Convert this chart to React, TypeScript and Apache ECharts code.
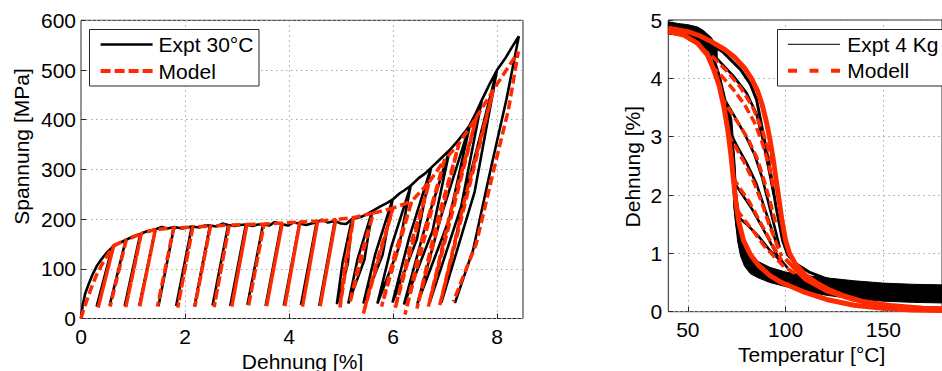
import React, { useEffect, useRef } from "react";
import * as echarts from "echarts";

const FONT = '"Liberation Sans", Arial, Helvetica, sans-serif';
const RED = "#ff2a00";
const FRAME = "#262626";

// ---------- Left chart: stress-strain (Dehnung [%] vs Spannung [MPa]) ----------
const strainTicks = [0, 2, 4, 6, 8];
const stressTicks = [0, 100, 200, 300, 400, 500, 600];

const exptFirstLoading: number[][] = [[0, 0], [0.03, 25], [0.08, 50], [0.15, 70], [0.22, 88], [0.3, 105], [0.4, 120], [0.5, 133]];
const exptPeakStrain = [0.6, 0.86, 1.14, 1.43, 1.79, 2.13, 2.48, 2.83, 3.17, 3.5, 3.85, 4.2, 4.53, 4.88, 5.21, 5.6, 5.99, 6.34, 6.73, 7.09, 7.48, 7.71, 8.0, 8.42];
const exptPeakStress = [143, 158, 170, 179, 184, 185, 187, 188, 189, 189, 190, 191, 193, 196, 200, 216, 239, 267, 303, 339, 390, 440, 500, 568];
const exptValleyStrain = [0.3, 0.55, 0.84, 1.12, 1.49, 1.83, 2.18, 2.53, 2.87, 3.2, 3.55, 3.9, 4.23, 4.58, 4.92, 5.14, 5.43, 5.7, 5.99, 6.21, 6.47, 6.7, 6.93, 7.19];
const exptValleyStress = [24, 26, 25, 26, 25, 25, 24, 26, 25, 27, 25, 26, 27, 25, 29, 30, 30, 30, 32, 28, 30, 30, 32, 31];
// mid points of the unloading / reloading branches (hardening loops only, null = straight)
const exptUnloadMid: (number[] | null)[] = [null, null, null, null, null, null, null, null, null, null, null, null, null, null,
  [5.03, 112], [5.32, 120], [5.66, 130], [5.97, 145], [6.31, 162], [6.6, 178], [6.92, 204], [7.15, 230], [7.42, 262], null];
const exptReloadMid: (number[] | null)[] = [null, null, null, null, null, null, null, null, null, null, null, null, null, null,
  [5.13, 110], [5.45, 118], [5.8, 128], [6.11, 142], [6.46, 160], [6.76, 176], [7.08, 200], [7.31, 225], [7.57, 255], null];
const exptEnvelope: number[][] = [
  [0.72, 151], [1.0, 165], [1.28, 176], [1.55, 184], [1.66, 181], [1.95, 181], [2.05, 183], [2.27, 183], [2.38, 187],
  [2.6, 185], [2.72, 191], [2.95, 186], [3.06, 188], [3.3, 186], [3.4, 189], [3.62, 187], [3.72, 194],
  [3.98, 187], [4.08, 193], [4.33, 188], [4.43, 191], [4.63, 199], [4.75, 193], [5.0, 191], [5.1, 190],
  [5.4, 205], [5.5, 210], [5.75, 225], [5.88, 232], [6.13, 252], [6.22, 258], [6.5, 283],
  [6.62, 292], [6.9, 320], [7.0, 330], [7.25, 358], [7.38, 375], [7.6, 415], [7.85, 470], [8.15, 522], [8.3, 548],
];
const exptFinalUnload: number[][] = [[8.18, 440], [7.89, 306], [7.54, 138]];

const modelFirstLoading: number[][] = [[0, 0], [0.04, 14], [0.1, 33], [0.2, 62], [0.3, 88], [0.4, 108], [0.5, 126]];
const modelPeakStrain = [0.63, 0.87, 1.16, 1.43, 1.78, 2.15, 2.49, 2.85, 3.19, 3.52, 3.87, 4.21, 4.55, 4.9, 5.24, 5.62, 6.0, 6.36, 6.7, 6.99, 7.27, 7.61, 7.93, 8.41];
const modelPeakStress = [147, 158, 171, 179, 182, 184, 186, 188, 189, 190, 192, 194, 196, 199, 203, 212, 222, 236, 275, 319, 352, 406, 460, 537];
const modelValleyStrain = [0.33, 0.56, 0.86, 1.13, 1.47, 1.86, 2.19, 2.56, 2.9, 3.22, 3.57, 3.92, 4.26, 4.6, 4.98, 5.17, 5.43, 5.78, 6.04, 6.23, 6.46, 6.68, 6.9, 7.16];
const modelValleyStress = [22, 24, 22, 24, 24, 22, 24, 23, 24, 24, 25, 25, 24, 25, 22, 31, 10, 24, 20, 8, 20, 24, 27, 34];
const modelUnloadMid: (number[] | null)[] = [null, null, null, null, null, null, null, null, null, null, null, null, null, null,
  [5.08, 112], [5.36, 118], [5.68, 112], [6.03, 128], [6.33, 145], [6.56, 160], [6.82, 184], [7.1, 212], [7.38, 240], null];
const modelFinalUnload: number[][] = [[8.22, 420], [7.94, 300], [7.6, 150]];

// ---------- Right chart: Temperatur [°C] vs Dehnung [%] ----------
const tempTicks = [50, 100, 150];
const strainTicksRight = [0, 1, 2, 3, 4, 5];

const exptCoolOuter: number[][] = [[40, 4.88], [50, 4.82], [56, 4.72], [60, 4.55], [63, 4.35], [66, 4.05], [68.9, 3.63], [70.5, 3.35], [72.1, 3.06], [73.5, 2.5], [74.6, 1.91], [75.5, 1.6], [77, 1.34], [79, 1.1], [82, 0.89], [86, 0.76], [91.8, 0.66], [100, 0.58], [110, 0.5], [121.3, 0.43], [135, 0.36], [150, 0.3], [165, 0.27], [180, 0.25]];
const exptHeatOuter: number[][] = [[40, 4.9], [50, 4.85], [56, 4.78], [60.7, 4.6], [68, 4.45], [77, 4.15], [82, 3.9], [85.2, 3.63], [88.5, 3.06], [91.8, 2.49], [95.1, 1.8], [98.4, 1.23], [101, 0.98], [104.9, 0.83], [112, 0.68], [121.3, 0.56], [140, 0.43], [160, 0.36], [180, 0.32]];
const exptInner1: number[][] = [[60, 4.5], [66, 4.3], [73, 4.05], [80, 3.75], [85, 3.4], [88, 3.0], [91, 2.5], [94, 2.0]];
const exptInner2: number[][] = [[68.5, 3.65], [73, 3.4], [79, 3.05], [84, 2.7], [88, 2.3], [91, 1.9], [94, 1.5], [97, 1.1]];
const exptInner3: number[][] = [[72, 3.05], [75, 2.85], [80, 2.55], [85, 2.2], [89, 1.8], [93, 1.4], [96, 1.1]];
const exptInner4: number[][] = [[74, 2.2], [78, 2.0], [83, 1.75], [88, 1.45], [92, 1.2], [96, 0.95], [101, 0.75]];
const exptInner5: number[][] = [[75, 1.65], [80, 1.5], [86, 1.3], [92, 1.05], [98, 0.85]];
const exptTailUpper: number[][] = [[73.5, 2.05], [74.5, 1.95], [75.5, 1.5], [77, 1.3], [79, 1.15], [82, 0.97], [86, 0.86], [92, 0.76], [100, 0.68], [110, 0.62], [121, 0.58], [135, 0.53], [150, 0.49], [165, 0.47], [180, 0.46]];
const exptTailLower: number[][] = [[73.5, 1.8], [74.5, 1.5], [75.5, 1.2], [77, 0.95], [79, 0.78], [82, 0.65], [86, 0.58], [92, 0.5], [100, 0.43], [110, 0.35], [121, 0.28], [135, 0.22], [150, 0.18], [165, 0.16], [180, 0.15]];
const exptTopUpper: number[][] = [[40, 4.97], [45, 4.94], [50, 4.92], [55, 4.88], [58, 4.82], [62, 4.7], [65, 4.55]];
const exptTopLower: number[][] = [[40, 4.76], [45, 4.74], [50, 4.7], [55, 4.62], [60, 4.48], [65, 4.3]];
const exptWedgeLeft: number[][] = [[68.5, 3.75], [69.5, 3.45], [71, 3.1], [72.2, 2.6], [73.2, 2.0], [74.5, 1.5], [76.5, 1.15]];
const exptWedgeRight: number[][] = [[70, 3.6], [72.5, 3.3], [74, 2.6], [75, 2.0], [76, 1.5], [78, 1.2], [78, 1.2]];

const modelCoolOuter: number[][] = [[40, 4.8], [48, 4.74], [55, 4.6], [60, 4.4], [63, 4.17], [66, 3.88], [68.5, 3.5], [70.5, 3.1], [72, 2.7], [73.2, 2.3], [74.5, 1.9], [76, 1.55], [78.5, 1.22], [82, 0.98], [86, 0.8], [92, 0.62], [98, 0.5], [110, 0.33], [121, 0.21], [135, 0.11], [150, 0.06], [165, 0.03], [180, 0.02]];
const modelHeatOuter: number[][] = [[40, 4.86], [50, 4.8], [56, 4.73], [62, 4.63], [69, 4.49], [74, 4.36], [79, 4.18], [82.5, 4.0], [85.5, 3.8], [88, 3.55], [90.2, 3.25], [92, 2.95], [93.5, 2.65], [95, 2.3], [96.5, 1.95], [98.2, 1.55], [100, 1.22], [102, 1.0], [105, 0.82], [110, 0.63], [116, 0.49], [122, 0.38], [130, 0.27], [140, 0.17], [155, 0.1], [170, 0.06], [180, 0.05]];
const modelInner1: number[][] = [[57, 4.52], [63, 4.36], [70, 4.12], [77, 3.84], [83, 3.52], [88, 3.12], [91, 2.8], [93.5, 2.5]];
const modelInner2: number[][] = [[62, 4.22], [67, 4.05], [73, 3.82], [79, 3.55], [84, 3.25], [88, 2.9], [91.5, 2.5], [94, 2.1]];
const modelInner3: number[][] = [[67, 3.7], [71.5, 3.45], [76, 3.22], [81, 2.95], [85.5, 2.62], [89, 2.25], [92, 1.9], [95, 1.5]];
const modelInner4: number[][] = [[70.5, 3.05], [74, 2.85], [79, 2.55], [84, 2.2], [88, 1.85], [91.5, 1.5], [95, 1.2], [98, 0.95]];
const modelInner5: number[][] = [[73, 2.3], [77, 2.1], [81.5, 1.88], [86, 1.6], [90, 1.35], [94, 1.1], [98, 0.88]];
const modelInner6: number[][] = [[75, 1.75], [79.5, 1.55], [84, 1.36], [89, 1.13], [94, 0.95], [99, 0.78], [105, 0.65]];
const modelTail: number[][] = [[100, 0.9], [110, 0.55], [121, 0.35], [135, 0.2], [150, 0.12], [165, 0.07], [180, 0.05]];

function buildLoops(
  first: number[][], peakX: number[], peakY: number[], valX: number[], valY: number[],
  envelope: number[][], finalUnload: number[][],
  unloadMid: (number[] | null)[], reloadMid: (number[] | null)[]
): number[][] {
  const pts: number[][] = first.slice();
  for (let i = 0; i < peakX.length; i++) {
    const prev = i === 0 ? -Infinity : peakX[i - 1];
    envelope.filter((p) => p[0] > prev && p[0] < peakX[i]).forEach((p) => pts.push(p));
    pts.push([peakX[i], peakY[i]]);
    if (i === peakX.length - 1) {
      finalUnload.forEach((p) => pts.push(p));
      pts.push([valX[i], valY[i]]);
    } else {
      if (unloadMid[i]) pts.push(unloadMid[i] as number[]);
      pts.push([valX[i], valY[i]]);
      if (reloadMid[i]) pts.push(reloadMid[i] as number[]);
      pts.push([peakX[i], peakY[i]]);
    }
  }
  return pts;
}

const lineBase = { type: "line", showSymbol: false, symbol: "none", silent: true, animation: false };

function polySeries(upper: number[][], lower: number[][], color: string) {
  const pts = upper.concat(lower.slice().reverse());
  return {
    type: "custom", xAxisIndex: 1, yAxisIndex: 1, silent: true,
    data: [pts[0]],
    renderItem: (_p: any, api: any) => ({
      type: "polygon",
      shape: { points: pts.map((p) => api.coord(p)) },
      style: { fill: color, stroke: color, lineWidth: 1 },
    }),
  };
}

const labelStyle = { fontSize: 21, fontFamily: FONT, color: "#000" };
const splitStyle = { show: true, lineStyle: { color: "#a6a6a6", width: 1, type: [1.5, 3.5] } };
const tickStyle = { inside: true, length: 5, lineStyle: { color: FRAME } };

export default function App() {
  const ref = useRef<HTMLDivElement>(null);
  useEffect(() => {
    if (!ref.current) return;
    const chart = echarts.init(ref.current, undefined, { renderer: "svg" });
    const exptLeft = buildLoops(exptFirstLoading, exptPeakStrain, exptPeakStress, exptValleyStrain, exptValleyStress, exptEnvelope, exptFinalUnload, exptUnloadMid, exptReloadMid);
    const modelLeft = buildLoops(modelFirstLoading, modelPeakStrain, modelPeakStress, modelValleyStrain, modelValleyStress, [], modelFinalUnload, modelUnloadMid, []);

    const blackR = (data: number[][], w = 2.6) => ({ ...lineBase, xAxisIndex: 1, yAxisIndex: 1, data, lineStyle: { color: "#000", width: w } });
    const redR = (data: number[][], w = 3.5, dashed = true) => ({ ...lineBase, xAxisIndex: 1, yAxisIndex: 1, data, lineStyle: { color: RED, width: w, type: dashed ? [9, 4] : "solid" } });

    const option: any = {
      animation: false,
      grid: [
        { left: 81, top: 20.3, width: 442, height: 298.2, show: true, borderColor: FRAME, borderWidth: 1, backgroundColor: "#fff" },
        { left: 668.3, top: 20, width: 284.8, height: 291.7, show: true, borderColor: FRAME, borderWidth: 1, backgroundColor: "#fff" },
      ],
      xAxis: [
        {
          type: "value", gridIndex: 0, min: 0, max: 8.5,
          axisLine: { show: false },
          axisTick: { ...tickStyle, customValues: strainTicks },
          axisLabel: { ...labelStyle, margin: 7, customValues: strainTicks },
          splitLine: splitStyle,
        },
        {
          type: "value", gridIndex: 1, min: 40, max: 180,
          axisLine: { show: false },
          axisTick: { ...tickStyle, customValues: tempTicks },
          axisLabel: { ...labelStyle, margin: 7, customValues: tempTicks },
          splitLine: splitStyle,
        },
      ],
      yAxis: [
        {
          type: "value", gridIndex: 0, min: 0, max: 600, interval: 100,
          axisLine: { show: false },
          axisTick: { ...tickStyle, customValues: stressTicks },
          axisLabel: { ...labelStyle, margin: 5, customValues: stressTicks },
          splitLine: splitStyle,
        },
        {
          type: "value", gridIndex: 1, min: 0, max: 5, interval: 1,
          axisLine: { show: false },
          axisTick: { ...tickStyle, customValues: strainTicksRight },
          axisLabel: { ...labelStyle, margin: 6, customValues: strainTicksRight },
          splitLine: splitStyle,
        },
      ],
      series: [
        { ...lineBase, name: "Expt 30°C", xAxisIndex: 0, yAxisIndex: 0, data: exptLeft, lineStyle: { color: "#000", width: 2.6 } },
        { ...lineBase, name: "Model", xAxisIndex: 0, yAxisIndex: 0, data: modelLeft, lineStyle: { color: RED, width: 3.5, type: [9, 4] } },

        polySeries(exptTailUpper, exptTailLower, "#000"),
        polySeries(exptTopUpper, exptTopLower, "#000"),
        polySeries(exptWedgeLeft, exptWedgeRight.slice().reverse(), "#000"),
        blackR(exptCoolOuter, 3),
        blackR(exptHeatOuter, 3),
        blackR(exptInner1), blackR(exptInner2), blackR(exptInner3), blackR(exptInner4), blackR(exptInner5),
        redR(modelCoolOuter, 5, false),
        redR(modelHeatOuter, 5, false),
        redR(modelTail, 4, false),
        redR(modelInner1), redR(modelInner2), redR(modelInner3), redR(modelInner4), redR(modelInner5), redR(modelInner6),
      ],
      graphic: [
        // axis titles
        { type: "text", x: 21, y: 146.5, rotation: Math.PI / 2, style: { text: "Spannung [MPa]", font: `21px ${FONT}`, fill: "#000", align: "center", verticalAlign: "middle", textAlign: "center", textVerticalAlign: "middle" } },
        { type: "text", x: 302.5, y: 361, style: { text: "Dehnung [%]", font: `21px ${FONT}`, fill: "#000", align: "center", verticalAlign: "middle", textAlign: "center", textVerticalAlign: "middle" } },
        { type: "text", x: 632.5, y: 166.7, rotation: Math.PI / 2, style: { text: "Dehnung [%]", font: `21px ${FONT}`, fill: "#000", align: "center", verticalAlign: "middle", textAlign: "center", textVerticalAlign: "middle" } },
        { type: "text", x: 811.7, y: 354, style: { text: "Temperatur [°C]", font: `21px ${FONT}`, fill: "#000", align: "center", verticalAlign: "middle", textAlign: "center", textVerticalAlign: "middle" } },
        // left legend
        { type: "rect", z: 100, shape: { x: 89.5, y: 29.5, width: 169.5, height: 56.5 }, style: { fill: "#fff", stroke: FRAME, lineWidth: 1 } },
        { type: "line", z: 101, shape: { x1: 100.6, y1: 44.6, x2: 152.6, y2: 44.6 }, style: { stroke: "#000", lineWidth: 2.5 } },
        { type: "line", z: 101, shape: { x1: 100.6, y1: 71, x2: 152.6, y2: 71 }, style: { stroke: RED, lineWidth: 4, lineDash: [10, 4] } },
        { type: "text", z: 101, x: 158.6, y: 44.6, style: { text: "Expt 30°C", font: `21px ${FONT}`, fill: "#000", verticalAlign: "middle", textVerticalAlign: "middle" } },
        { type: "text", z: 101, x: 158.6, y: 71, style: { text: "Model", font: `21px ${FONT}`, fill: "#000", verticalAlign: "middle", textVerticalAlign: "middle" } },
        // right legend
        { type: "rect", z: 100, shape: { x: 777.5, y: 29.5, width: 200, height: 56.5 }, style: { fill: "#fff", stroke: FRAME, lineWidth: 1 } },
        { type: "line", z: 101, shape: { x1: 788, y1: 44.3, x2: 840, y2: 44.3 }, style: { stroke: "#000", lineWidth: 1 } },
        { type: "line", z: 101, shape: { x1: 788, y1: 70.7, x2: 840, y2: 70.7 }, style: { stroke: RED, lineWidth: 4, lineDash: [9, 12.5] } },
        { type: "text", z: 101, x: 847.3, y: 44.3, style: { text: "Expt 4 Kg", font: `21px ${FONT}`, fill: "#000", verticalAlign: "middle", textVerticalAlign: "middle" } },
        { type: "text", z: 101, x: 847.3, y: 70.7, style: { text: "Modell", font: `21px ${FONT}`, fill: "#000", verticalAlign: "middle", textVerticalAlign: "middle" } },
      ],
    };
    chart.setOption(option);
    return () => chart.dispose();
  }, []);
  return <div ref={ref} style={{ position: "fixed", left: 0, top: 0, width: 942, height: 371, background: "#fff" }} />;
}
